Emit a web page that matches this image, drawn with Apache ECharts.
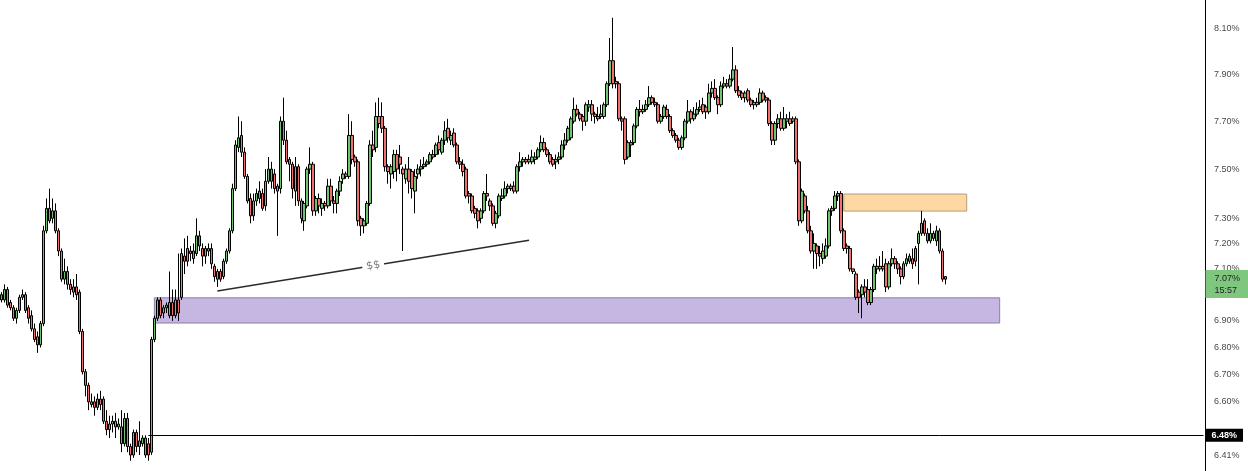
<!DOCTYPE html>
<html>
<head>
<meta charset="utf-8">
<script src="https://cdn.jsdelivr.net/npm/echarts/dist/echarts.min.js"></script>
<style>
html,body{margin:0;padding:0;background:#ffffff;}
#chart{width:1248px;height:471px;}
</style>
</head>
<body>
<div id="chart"></div>
<script>
// ---- candles: [open, close, low, high] (yield, %) ----
const ohlcSeg1 = [
[7.00,6.98,6.97,7.01],[6.98,7.02,6.97,7.04],[7.02,6.96,6.95,7.03],[6.97,6.95,6.94,6.98],
[6.95,6.91,6.90,6.96],[6.91,6.94,6.89,6.95],[6.94,6.99,6.93,7.00],[6.99,7.00,6.98,7.02],
[7.00,6.94,6.93,7.01],[6.95,6.91,6.89,6.96],[6.92,6.87,6.86,6.94],[6.87,6.83,6.82,6.89],
[6.84,6.81,6.78,6.86],[6.81,6.89,6.80,6.90],[6.89,7.25,6.88,7.27],[7.25,7.34,7.24,7.38],
[7.34,7.29,7.28,7.42],[7.30,7.33,7.28,7.38],[7.33,7.25,7.24,7.36],[7.25,7.17,7.15,7.26],
[7.17,7.06,7.05,7.18],[7.06,7.09,7.04,7.14],[7.09,7.04,7.02,7.11],[7.04,7.02,7.00,7.06],
[7.01,7.03,6.99,7.06],[7.03,7.00,6.98,7.08],[7.01,6.86,6.85,7.02],[6.86,6.71,6.70,6.87],
[6.71,6.66,6.62,6.72],[6.66,6.60,6.57,6.67],[6.60,6.59,6.58,6.63],[6.60,6.58,6.55,6.62],
[6.58,6.61,6.57,6.63],[6.61,6.59,6.57,6.64],[6.61,6.53,6.52,6.62],[6.53,6.50,6.48,6.57],
[6.50,6.52,6.47,6.55],[6.52,6.53,6.49,6.55],[6.53,6.51,6.47,6.56],[6.51,6.52,6.50,6.54],
[6.51,6.45,6.42,6.57],[6.45,6.54,6.44,6.56],[6.54,6.44,6.42,6.56],[6.44,6.41,6.39,6.45],
[6.41,6.49,6.40,6.50],[6.49,6.44,6.42,6.50],[6.44,6.46,6.41,6.53],[6.45,6.47,6.44,6.48],
[6.47,6.41,6.40,6.48],[6.45,6.41,6.39,6.47]
];
const ohlcSeg2 = [
[6.42,6.83,6.41,6.84],[6.83,6.91,6.82,6.92],[6.91,6.98,6.90,6.99],[6.98,6.92,6.91,6.99],
[6.93,6.95,6.91,6.96],[6.95,6.96,6.93,6.97],[6.92,6.97,6.91,7.09],[6.97,6.92,6.90,7.02],
[6.92,6.98,6.91,7.02],[6.98,6.93,6.90,7.16],[6.99,7.16,6.98,7.18],[7.15,7.13,7.08,7.22],
[7.13,7.18,7.11,7.23],[7.17,7.16,7.13,7.19],[7.17,7.14,7.12,7.20],[7.16,7.23,7.15,7.30],
[7.23,7.19,7.17,7.25],[7.18,7.15,7.11,7.20],[7.15,7.18,7.12,7.19],[7.17,7.18,7.15,7.20],
[7.18,7.12,7.10,7.20],[7.11,7.07,7.05,7.12],[7.06,7.09,7.03,7.10],[7.09,7.06,7.05,7.10],
[7.07,7.13,7.06,7.14],[7.13,7.17,7.12,7.18],[7.17,7.25,7.16,7.26],[7.25,7.42,7.24,7.44],
[7.42,7.60,7.41,7.62],[7.59,7.63,7.57,7.72],[7.64,7.57,7.55,7.70],[7.57,7.47,7.46,7.59],
[7.47,7.37,7.36,7.48],[7.38,7.31,7.28,7.40],[7.31,7.37,7.29,7.40],[7.37,7.40,7.35,7.42],
[7.38,7.41,7.36,7.45],[7.40,7.34,7.33,7.42],[7.35,7.45,7.33,7.50],[7.45,7.50,7.44,7.55],
[7.50,7.45,7.42,7.53],[7.48,7.42,7.40,7.50],[7.43,7.41,7.23,7.44],[7.42,7.70,7.40,7.72],
[7.70,7.62,7.60,7.80],[7.62,7.53,7.52,7.66],[7.54,7.52,7.45,7.55],[7.52,7.42,7.38,7.53],
[7.41,7.51,7.35,7.55],[7.51,7.37,7.35,7.52],[7.37,7.30,7.28,7.38],[7.29,7.36,7.25,7.37],
[7.35,7.50,7.34,7.51],[7.50,7.52,7.48,7.59],[7.52,7.33,7.31,7.53],[7.33,7.38,7.31,7.39],
[7.38,7.35,7.32,7.40],[7.34,7.36,7.31,7.38],[7.36,7.35,7.33,7.37],[7.35,7.43,7.34,7.46],
[7.43,7.37,7.35,7.46],[7.37,7.36,7.32,7.39],[7.36,7.41,7.32,7.42],[7.41,7.45,7.39,7.47],
[7.46,7.48,7.44,7.50],[7.48,7.47,7.46,7.49],[7.47,7.64,7.46,7.73],[7.64,7.54,7.52,7.70],
[7.55,7.53,7.51,7.56],[7.53,7.29,7.27,7.54]
];
const ohlcSeg3 = [
[7.30,7.27,7.23,7.31],[7.27,7.29,7.24,7.30],[7.28,7.36,7.27,7.37],[7.36,7.60,7.35,7.62],
[7.60,7.58,7.55,7.66],[7.59,7.72,7.57,7.78],[7.72,7.69,7.67,7.80],[7.72,7.67,7.65,7.78],
[7.67,7.51,7.49,7.68],[7.51,7.49,7.44,7.52],[7.48,7.51,7.42,7.52],[7.49,7.56,7.46,7.58],
[7.56,7.50,7.45,7.58],[7.55,7.52,7.48,7.60],[7.50,7.48,7.17,7.51],[7.46,7.50,7.44,7.52],
[7.50,7.45,7.40,7.55],[7.49,7.42,7.38,7.50],[7.41,7.47,7.32,7.50],[7.48,7.50,7.46,7.52],
[7.50,7.51,7.47,7.54],[7.51,7.52,7.50,7.55],[7.52,7.53,7.51,7.54],[7.53,7.56,7.52,7.57],
[7.56,7.55,7.54,7.58],[7.56,7.60,7.55,7.61],[7.61,7.58,7.56,7.64],[7.57,7.62,7.56,7.63],
[7.62,7.66,7.60,7.70],[7.67,7.63,7.61,7.71],[7.62,7.64,7.60,7.66],[7.65,7.60,7.59,7.67],
[7.60,7.53,7.52,7.61],[7.53,7.52,7.50,7.55],[7.52,7.49,7.47,7.54],[7.50,7.39,7.38,7.51],
[7.40,7.39,7.36,7.41],[7.39,7.33,7.32,7.40],[7.34,7.32,7.30,7.35],[7.33,7.29,7.26,7.34],
[7.30,7.33,7.28,7.34],[7.33,7.40,7.32,7.41],[7.40,7.39,7.37,7.48],[7.37,7.35,7.33,7.38],
[7.35,7.28,7.27,7.36],[7.28,7.32,7.26,7.33],[7.31,7.39,7.30,7.40],[7.38,7.39,7.37,7.42],
[7.39,7.42,7.38,7.45],[7.42,7.43,7.40,7.44],[7.43,7.42,7.41,7.44],[7.43,7.41,7.40,7.45],
[7.41,7.51,7.40,7.52],[7.51,7.53,7.49,7.57],[7.53,7.54,7.51,7.55],[7.54,7.53,7.52,7.55],
[7.53,7.54,7.52,7.56],[7.53,7.55,7.52,7.58]
];
const ohlcSeg4 = [
[7.54,7.55,7.52,7.57],[7.55,7.58,7.54,7.59],[7.58,7.61,7.57,7.64],[7.61,7.58,7.57,7.63],
[7.58,7.56,7.55,7.59],[7.56,7.53,7.52,7.57],[7.54,7.52,7.51,7.55],[7.53,7.54,7.50,7.56],
[7.54,7.55,7.52,7.57],[7.55,7.60,7.54,7.62],[7.60,7.62,7.58,7.65],[7.62,7.67,7.61,7.68],
[7.63,7.71,7.62,7.72],[7.70,7.75,7.69,7.80],[7.75,7.73,7.72,7.77],[7.73,7.71,7.70,7.74],
[7.72,7.70,7.66,7.73],[7.70,7.77,7.68,7.78],[7.76,7.77,7.74,7.79],[7.77,7.73,7.70,7.79],
[7.73,7.72,7.69,7.74],[7.72,7.71,7.70,7.76],[7.72,7.73,7.71,7.77],[7.72,7.77,7.71,7.78],
[7.77,7.86,7.76,7.87],[7.86,7.96,7.85,8.06],[7.96,7.86,7.84,8.15],[7.87,7.86,7.84,7.89],
[7.86,7.71,7.70,7.87],[7.71,7.70,7.66,7.72],[7.71,7.54,7.52,7.72],[7.55,7.61,7.54,7.62],
[7.61,7.60,7.55,7.62],[7.61,7.68,7.60,7.69],[7.68,7.75,7.67,7.76],[7.75,7.74,7.72,7.79],
[7.74,7.75,7.73,7.77]
];
const ohlcSeg5 = [
[7.75,7.77,7.74,7.79],[7.77,7.80,7.76,7.85],[7.80,7.78,7.77,7.81],[7.78,7.77,7.76,7.80],
[7.77,7.70,7.69,7.78],[7.70,7.72,7.69,7.73],[7.72,7.76,7.71,7.77],[7.75,7.72,7.71,7.77],
[7.72,7.66,7.65,7.73],[7.66,7.64,7.63,7.67],[7.64,7.62,7.61,7.65],[7.62,7.59,7.58,7.63],
[7.59,7.63,7.58,7.64],[7.63,7.70,7.62,7.71],[7.70,7.74,7.69,7.79],[7.74,7.71,7.69,7.75],
[7.71,7.73,7.70,7.76],[7.73,7.75,7.72,7.78],[7.75,7.76,7.74,7.79],[7.77,7.74,7.73,7.80],
[7.76,7.74,7.71,7.77],[7.74,7.82,7.73,7.86],[7.82,7.84,7.80,7.87],[7.84,7.80,7.79,7.88],
[7.80,7.77,7.73,7.81],[7.77,7.85,7.76,7.87],[7.85,7.86,7.84,7.89],[7.86,7.85,7.84,7.88],
[7.85,7.88,7.84,7.90],[7.88,7.92,7.87,8.02],[7.92,7.83,7.82,7.94],[7.83,7.81,7.80,7.85],
[7.82,7.80,7.79,7.83],[7.80,7.82,7.78,7.83],[7.83,7.79,7.78,7.84],[7.79,7.77,7.76,7.80],
[7.77,7.78,7.75,7.79],[7.77,7.78,7.76,7.80],[7.78,7.82,7.77,7.84],[7.82,7.79,7.78,7.83],
[7.80,7.79,7.78,7.81],[7.79,7.69,7.68,7.80],[7.69,7.62,7.60,7.70],[7.62,7.69,7.60,7.70],
[7.69,7.71,7.67,7.73],[7.71,7.67,7.66,7.74],[7.67,7.71,7.66,7.76],[7.70,7.71,7.67,7.73],
[7.71,7.69,7.68,7.74],[7.70,7.71,7.69,7.72],[7.71,7.53,7.52,7.72],[7.53,7.29,7.27,7.54]
];
const ohlcSeg6 = [
[7.29,7.41,7.28,7.42],[7.39,7.33,7.32,7.40],[7.33,7.25,7.24,7.35],[7.25,7.17,7.16,7.27],
[7.17,7.20,7.10,7.24],[7.19,7.16,7.10,7.20],[7.16,7.15,7.11,7.19],[7.14,7.17,7.12,7.20],
[7.15,7.19,7.14,7.22],[7.19,7.33,7.18,7.34],[7.33,7.34,7.31,7.35],[7.34,7.39,7.33,7.41],
[7.39,7.40,7.37,7.41],[7.40,7.25,7.24,7.41],[7.25,7.18,7.17,7.26],[7.19,7.18,7.16,7.20],
[7.18,7.10,7.09,7.19],[7.10,7.09,7.08,7.10],[7.08,6.99,6.98,7.09],[7.01,6.99,6.93,7.02],
[7.00,7.03,6.91,7.04],[7.03,7.01,6.99,7.06],[7.02,6.97,6.96,7.06],[6.97,7.02,6.96,7.03],
[7.02,7.11,7.01,7.12],[7.11,7.10,7.08,7.14],[7.10,7.11,7.09,7.15],[7.11,7.10,7.09,7.17],
[7.12,7.03,7.01,7.14],[7.03,7.12,7.02,7.13],[7.12,7.14,7.11,7.18],[7.14,7.12,7.10,7.15],
[7.12,7.10,7.08,7.13],[7.10,7.07,7.04,7.11],[7.07,7.12,7.06,7.13],[7.12,7.14,7.11,7.16],
[7.15,7.13,7.12,7.16],[7.14,7.12,7.10,7.18],[7.13,7.18,7.11,7.19],[7.20,7.24,7.04,7.25],
[7.24,7.28,7.23,7.33],[7.29,7.24,7.23,7.30],[7.24,7.21,7.20,7.26],[7.21,7.24,7.20,7.28],
[7.24,7.22,7.21,7.25],[7.21,7.25,7.19,7.27],[7.25,7.17,7.16,7.26],[7.17,7.06,7.05,7.18],
[7.06,7.07,7.04,7.07]
];

// ---- axis / annotation values ----
const totalSlots = 402;                 // bar slots across the plot (future space on the right)
const yMin = 6.354, yMax = 8.23;
const tickValues = [8.10, 7.90, 7.70, 7.50, 7.30, 7.20, 7.10, 7.00, 6.90, 6.80, 6.70, 6.60, 6.41];
const demandZone = { from: 51, to: 333, low: 6.892, high: 6.988 };
const supplyZone = { from: 281, to: 322, low: 7.329, high: 7.398 };
const trendLine = { fromIdx: 72, fromVal: 7.014, toIdx: 176, toVal: 7.213, text: '$$' };
const levelLine = { fromIdx: 49, value: 6.48 };
const lastPrice = { value: 7.07, countdown: '15:57', tagCenter: 7.041 };

const candles = ohlcSeg1.concat(ohlcSeg2, ohlcSeg3, ohlcSeg4, ohlcSeg5, ohlcSeg6);
const categories = Array.from({ length: totalSlots }, (_, i) => String(i));
const lastIdx = candles.length - 1;
const endIdx = totalSlots - 1;

const chart = echarts.init(document.getElementById('chart'), null, { renderer: 'canvas' });

const option = {
  animation: false,
  backgroundColor: '#ffffff',
  grid: { left: 0, right: 43, top: 0, bottom: 0, containLabel: false, outerBoundsMode: 'none' },
  xAxis: {
    type: 'category',
    data: categories,
    boundaryGap: true,
    show: false
  },
  yAxis: {
    type: 'log',
    logBase: 10,
    position: 'right',
    min: yMin,
    max: yMax,
    axisLine: { show: true, lineStyle: { color: '#000000', width: 1 } },
    axisTick: { show: false },
    minorTick: { show: false },
    splitLine: { show: false },
    minorSplitLine: { show: false },
    axisLabel: {
      customValues: tickValues,
      formatter: (v) => Number(v).toFixed(2) + '%',
      color: '#4a4a4a',
      fontSize: 9,
      fontFamily: 'Liberation Sans, Arial, sans-serif',
      margin: 9
    }
  },
  series: [
    {
      type: 'candlestick',
      data: candles,
      barWidth: 3,
      z: 2,
      itemStyle: {
        color: '#6fc46f',
        color0: '#f07070',
        borderColor: '#000000',
        borderColor0: '#000000',
        borderColorDoji: '#000000',
        borderWidth: 1
      }
    },
    {
      type: 'line',
      data: [],
      z: 3,
      silent: true,
      markArea: {
        silent: true,
        data: [
          [
            { coord: [demandZone.from, demandZone.high],
              itemStyle: { color: 'rgba(139,111,197,0.5)', borderColor: '#8b7fa8', borderWidth: 1 } },
            { coord: [demandZone.to, demandZone.low] }
          ],
          [
            { coord: [supplyZone.from, supplyZone.high],
              itemStyle: { color: 'rgba(251,168,49,0.45)', borderColor: '#b59c7a', borderWidth: 1 } },
            { coord: [supplyZone.to, supplyZone.low] }
          ]
        ]
      }
    },
    {
      type: 'line',
      data: [],
      z: 4,
      silent: true,
      markLine: {
        silent: true,
        symbol: ['none', 'none'],
        lineStyle: { color: '#2b2b2b', width: 1.5, type: 'solid' },
        label: {
          show: true,
          position: 'middle',
          distance: 0,
          verticalAlign: 'middle',
          formatter: trendLine.text,
          color: '#777777',
          fontSize: 11,
          fontFamily: 'DejaVu Sans, sans-serif',
          backgroundColor: '#ffffff',
          padding: [1, 4]
        },
        data: [[
          { coord: [trendLine.fromIdx, trendLine.fromVal] },
          { coord: [trendLine.toIdx, trendLine.toVal] }
        ]]
      }
    },
    {
      type: 'line',
      data: [],
      z: 5,
      silent: true,
      markLine: {
        silent: true,
        symbol: ['none', 'none'],
        lineStyle: { color: '#000000', width: 1, type: 'solid' },
        label: {
          show: true,
          position: 'end',
          distance: 2,
          formatter: levelLine.value.toFixed(2) + '%',
          color: '#ffffff',
          fontWeight: 'bold',
          fontSize: 9,
          fontFamily: 'Liberation Sans, Arial, sans-serif',
          backgroundColor: '#000000',
          padding: [2, 6]
        },
        data: [[
          { coord: [levelLine.fromIdx, levelLine.value] },
          { coord: [endIdx, levelLine.value] }
        ]]
      }
    },
    {
      type: 'line',
      data: [],
      z: 6,
      silent: true,
      markLine: {
        silent: true,
        symbol: ['none', 'none'],
        lineStyle: { color: 'rgba(0,0,0,0)', width: 0, type: 'solid' },
        label: {
          show: true,
          position: 'end',
          distance: 2,
          formatter: lastPrice.value.toFixed(2) + '%\n' + lastPrice.countdown,
          color: '#1e1e1e',
          fontSize: 9,
          lineHeight: 12,
          fontFamily: 'Liberation Sans, Arial, sans-serif',
          backgroundColor: '#7fc77f',
          padding: [2, 9]
        },
        data: [[
          { coord: [lastIdx, lastPrice.tagCenter] },
          { coord: [endIdx, lastPrice.tagCenter] }
        ]]
      }
    }
  ]
};

chart.setOption(option);
</script>
</body>
</html>
